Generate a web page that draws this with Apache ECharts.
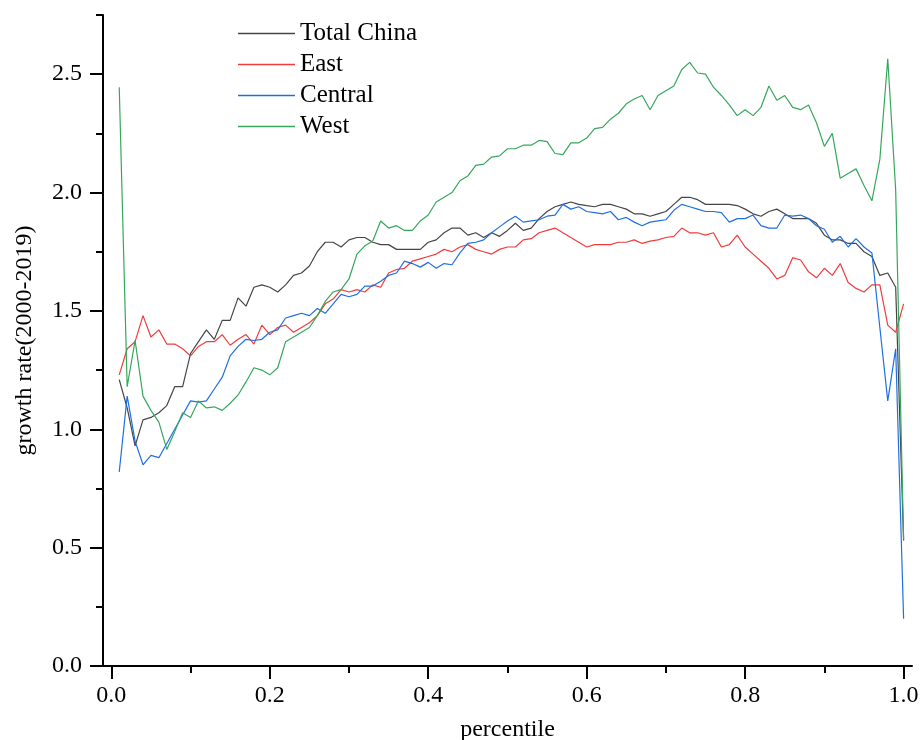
<!DOCTYPE html>
<html>
<head>
<meta charset="utf-8">
<script src="https://cdn.jsdelivr.net/npm/echarts@6/dist/echarts.min.js"></script>
<style>
  html, body { margin: 0; padding: 0; background: #fff; }
  #chart { width: 921px; height: 740px; }
</style>
</head>
<body>
<div id="chart"></div>
<script>
// Percentile grid (x values)
const percentiles = [
  0.01,0.02,0.03,0.04,0.05,0.06,0.07,0.08,0.09,0.10,
  0.11,0.12,0.13,0.14,0.15,0.16,0.17,0.18,0.19,0.20,
  0.21,0.22,0.23,0.24,0.25,0.26,0.27,0.28,0.29,0.30,
  0.31,0.32,0.33,0.34,0.35,0.36,0.37,0.38,0.39,0.40,
  0.41,0.42,0.43,0.44,0.45,0.46,0.47,0.48,0.49,0.50,
  0.51,0.52,0.53,0.54,0.55,0.56,0.57,0.58,0.59,0.60,
  0.61,0.62,0.63,0.64,0.65,0.66,0.67,0.68,0.69,0.70,
  0.71,0.72,0.73,0.74,0.75,0.76,0.77,0.78,0.79,0.80,
  0.81,0.82,0.83,0.84,0.85,0.86,0.87,0.88,0.89,0.90,
  0.91,0.92,0.93,0.94,0.95,0.96,0.97,0.98,0.99,1.00
];

// Growth rate 2000-2019 by percentile
const totalChina = [
  1.21,1.09,0.93,1.04,1.05,1.07,1.10,1.18,1.18,1.32,
  1.37,1.42,1.38,1.46,1.46,1.555,1.52,1.60,1.61,1.60,
  1.58,1.61,1.65,1.66,1.69,1.75,1.79,1.79,1.77,1.80,
  1.81,1.81,1.79,1.78,1.78,1.76,1.76,1.76,1.76,1.79,
  1.80,1.83,1.85,1.85,1.82,1.83,1.81,1.83,1.815,1.84,
  1.87,1.84,1.85,1.89,1.92,1.94,1.95,1.96,1.95,1.945,
  1.94,1.95,1.95,1.94,1.93,1.91,1.91,1.90,1.91,1.92,
  1.95,1.98,1.98,1.97,1.95,1.95,1.95,1.95,1.945,1.93,
  1.91,1.90,1.92,1.93,1.91,1.89,1.89,1.89,1.87,1.82,
  1.80,1.80,1.785,1.785,1.75,1.73,1.65,1.66,1.60,0.53
];
const east = [
  1.23,1.34,1.37,1.48,1.39,1.42,1.36,1.36,1.34,1.31,
  1.35,1.37,1.37,1.40,1.355,1.38,1.40,1.36,1.44,1.40,
  1.43,1.44,1.41,1.43,1.45,1.48,1.53,1.55,1.59,1.58,
  1.59,1.58,1.61,1.60,1.66,1.675,1.68,1.71,1.72,1.73,
  1.74,1.76,1.75,1.77,1.78,1.76,1.75,1.74,1.76,1.77,
  1.77,1.80,1.805,1.83,1.84,1.85,1.83,1.81,1.79,1.77,
  1.78,1.78,1.78,1.79,1.79,1.80,1.785,1.795,1.80,1.81,
  1.815,1.85,1.83,1.83,1.82,1.83,1.77,1.78,1.82,1.77,
  1.74,1.71,1.68,1.635,1.65,1.725,1.715,1.665,1.64,1.68,
  1.65,1.70,1.62,1.595,1.58,1.61,1.61,1.44,1.41,1.53
];
const central = [
  0.82,1.14,0.95,0.85,0.89,0.88,0.94,1.00,1.06,1.12,
  1.115,1.12,1.17,1.22,1.31,1.35,1.38,1.375,1.38,1.41,
  1.42,1.47,1.48,1.49,1.48,1.51,1.49,1.53,1.57,1.56,
  1.57,1.605,1.605,1.625,1.65,1.66,1.71,1.70,1.685,1.705,
  1.68,1.70,1.695,1.745,1.785,1.79,1.80,1.83,1.855,1.88,
  1.90,1.875,1.88,1.885,1.90,1.905,1.95,1.93,1.94,1.92,
  1.915,1.91,1.92,1.885,1.895,1.875,1.86,1.875,1.88,1.885,
  1.925,1.95,1.94,1.93,1.92,1.92,1.915,1.875,1.89,1.89,
  1.905,1.86,1.85,1.85,1.905,1.90,1.905,1.89,1.86,1.845,
  1.79,1.815,1.77,1.805,1.77,1.745,1.43,1.12,1.34,0.20
];
const west = [
  2.445,1.18,1.375,1.14,1.08,1.03,0.915,0.99,1.07,1.05,
  1.12,1.09,1.095,1.08,1.11,1.145,1.20,1.26,1.25,1.23,
  1.26,1.37,1.39,1.41,1.43,1.48,1.54,1.58,1.59,1.635,
  1.74,1.775,1.795,1.88,1.85,1.86,1.84,1.84,1.88,1.905,
  1.96,1.98,2.00,2.05,2.07,2.115,2.12,2.15,2.155,2.185,
  2.185,2.20,2.20,2.22,2.215,2.165,2.16,2.21,2.21,2.23,
  2.27,2.275,2.31,2.335,2.375,2.395,2.41,2.35,2.41,2.43,
  2.45,2.52,2.55,2.505,2.50,2.445,2.41,2.37,2.325,2.35,
  2.325,2.36,2.45,2.39,2.41,2.36,2.35,2.37,2.295,2.195,
  2.25,2.06,2.08,2.10,2.03,1.965,2.14,2.565,2.01,0.535
];

// Axis ticks
const xMajorTicks = [0, 0.2, 0.4, 0.6, 0.8, 1.0];
const xMinorTicks = [0.1, 0.3, 0.5, 0.7, 0.9];
const yMajorTicks = [0, 0.5, 1.0, 1.5, 2.0, 2.5];
const yMinorTicks = [0.25, 0.75, 1.25, 1.75, 2.25, 2.75];

const seriesNames = ['Total China', 'East', 'Central', 'West'];
const seriesColors = ['#454545', '#f03c3c', '#1f6fe4', '#35a75c'];
const seriesValues = [totalChina, east, central, west];

const FONT = '"Liberation Serif", "Times New Roman", serif';
const X_MIN = -0.0105, X_MAX = 1.0106;

const chart = echarts.init(document.getElementById('chart'), null, { renderer: 'canvas' });

const tickStyle = { color: '#000', width: 2 };

chart.setOption({
  animation: false,
  backgroundColor: '#fff',
  grid: { left: 103, top: 15, width: 809, height: 651, outerBoundsMode: 'none', containLabel: false },
  legend: {
    orient: 'vertical',
    left: 238,
    top: 21,
    padding: 0,
    icon: 'rect',
    itemWidth: 57,
    itemHeight: 1.4,
    itemGap: 6,
    textStyle: { fontFamily: FONT, fontSize: 25, color: '#000' },
    data: seriesNames
  },
  xAxis: [
    {
      type: 'value', min: X_MIN, max: X_MAX,
      name: 'percentile', nameLocation: 'middle', nameGap: 52,
      nameTextStyle: { fontFamily: FONT, fontSize: 24, color: '#000' },
      axisLine: { show: true, onZero: false, lineStyle: tickStyle },
      axisTick: { show: true, length: 13, customValues: xMajorTicks, lineStyle: tickStyle },
      axisLabel: { show: true, margin: 18, customValues: xMajorTicks, fontFamily: FONT, fontSize: 24, color: '#000',
        formatter: v => v.toFixed(1) },
      splitLine: { show: false }
    },
    {
      type: 'value', min: X_MIN, max: X_MAX, position: 'bottom',
      axisLine: { show: false, onZero: false },
      axisTick: { show: true, length: 7, customValues: xMinorTicks, lineStyle: tickStyle },
      axisLabel: { show: false },
      splitLine: { show: false }
    }
  ],
  yAxis: [
    {
      type: 'value', min: 0, max: 2.75,
      name: 'growth rate(2000-2019)', nameLocation: 'middle', nameGap: 66, nameRotate: 90,
      nameTextStyle: { fontFamily: FONT, fontSize: 24, color: '#000' },
      axisLine: { show: true, onZero: false, lineStyle: tickStyle },
      axisTick: { show: true, length: 13, customValues: yMajorTicks, lineStyle: tickStyle },
      axisLabel: { show: true, margin: 21, customValues: yMajorTicks, fontFamily: FONT, fontSize: 24, color: '#000',
        formatter: v => v.toFixed(1) },
      splitLine: { show: false }
    },
    {
      type: 'value', min: 0, max: 2.75, position: 'left',
      axisLine: { show: false, onZero: false },
      axisTick: { show: true, length: 7, customValues: yMinorTicks, lineStyle: tickStyle },
      axisLabel: { show: false },
      splitLine: { show: false }
    }
  ],
  series: seriesNames.map((name, i) => ({
    name: name,
    type: 'line',
    xAxisIndex: 0,
    yAxisIndex: 0,
    symbol: 'none',
    smooth: false,
    color: seriesColors[i],
    itemStyle: { color: seriesColors[i] },
    lineStyle: { color: seriesColors[i], width: 1.2 },
    data: percentiles.map((p, k) => [p, seriesValues[i][k]])
  }))
});
</script>
</body>
</html>
